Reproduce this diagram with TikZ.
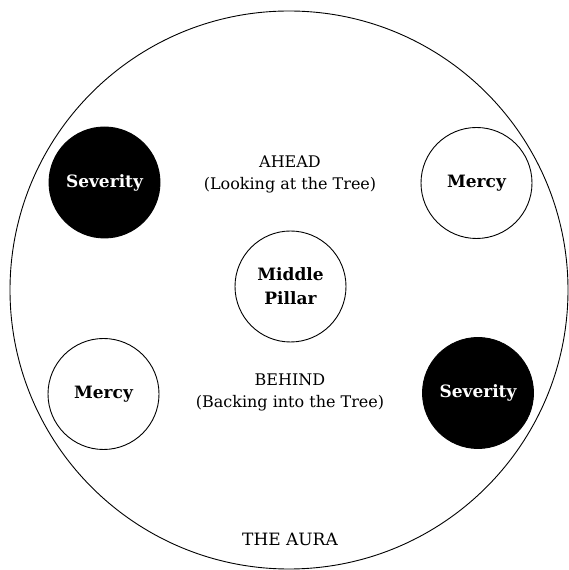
\documentclass[tikz,border=0pt]{standalone}
\usepackage{fontspec}
\setmainfont{DejaVu Serif}
\begin{document}
\begin{tikzpicture}[x=1pt,y=1pt,
  pole/.style={circle,draw=black,line width=0.9pt,minimum size=111pt,inner sep=0pt,
    font=\fontsize{17}{24}\selectfont\bfseries,align=center},
  dark/.style={pole,fill=black,text=white},
  light/.style={pole,fill=white,text=black},
  caption/.style={font=\fontsize{16}{22}\selectfont,align=center}]
\useasboundingbox (0,0) rectangle (568,570);
% the aura
\draw[line width=0.9pt] (289,280) circle (279);
% the pillars
\node[dark] (sevTop) at (104.5,387.5) {Severity};
\node[light] (mercyTop) at (476.5,387) {Mercy};
\node[light] (middle) at (290.5,283.5) {Middle\\Pillar};
\node[light] (mercyBot) at (103.5,176) {Mercy};
\node[dark] (sevBot) at (478,177) {Severity};
% the labels
\node[caption] (ahead) at (290,396) {AHEAD\\(Looking at the Tree)};
\node[caption] (behind) at (290,178) {BEHIND\\(Backing into the Tree)};
\node[caption,font=\fontsize{17}{22}\selectfont] (aura) at (290,31) {THE AURA};
\end{tikzpicture}
\end{document}
